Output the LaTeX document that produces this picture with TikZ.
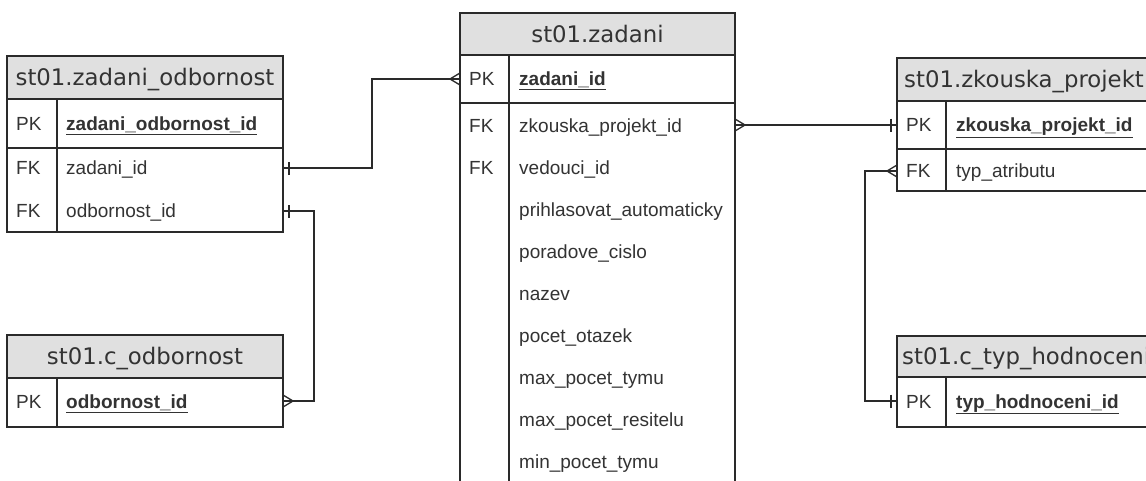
\documentclass[tikz,border=0pt]{standalone}
\usepackage{fontspec}
\setmainfont{Liberation Sans}
\newfontfamily\hdrfont{DejaVu Sans}
\definecolor{ln}{HTML}{2A2A2A}
\definecolor{hd}{HTML}{E0E0E0}
\definecolor{tx}{HTML}{333333}
\begin{document}
\begin{tikzpicture}[x=1pt,y=-1pt,
  box/.style={draw=ln, line width=1.3pt},
  hdrbox/.style={draw=ln, fill=hd, line width=1.3pt},
  htext/.style={font=\hdrfont\fontsize{22.8}{26}\selectfont, text=tx, inner sep=0pt, anchor=base},
  hltext/.style={htext, anchor=base west},
  ktext/.style={font=\fontsize{19}{23}\selectfont, text=tx, inner sep=0pt, anchor=base west},
  pktext/.style={ktext, font=\fontsize{19}{23}\selectfont\bfseries},
  conn/.style={draw=ln, line width=1.3pt},
  crow/.pic={\draw[conn] (-10,0) -- (0,-6) (-10,0) -- (0,6);},
  onebar/.pic={\draw[conn] (-6,-6.5) -- (-6,6.5);}
]
\useasboundingbox (0,0) rectangle (1146,480);
\fill[white] (0,0) rectangle (1146,480);
\clip (0,0) rectangle (1146,480);

% ---------- st01.zadani_odbornost ----------
\draw[hdrbox] (7,56) rectangle (283,99);
\draw[box] (7,99) rectangle (283,232);
\draw[box] (7,148) -- (283,148);
\draw[box] (57,99) -- (57,232);
\node[htext] (zoh) at (145,85.5) {st01.zadani\_odbornost};
\node[ktext] (zok1) at (16,130) {PK};
\node[pktext] (zon1) at (66,130) {\underline{zadani\_odbornost\_id}};
\node[ktext] (zok2) at (16,174.5) {FK};
\node[ktext] (zon2) at (66,174.5) {zadani\_id};
\node[ktext] (zok3) at (16,217.5) {FK};
\node[ktext] (zon3) at (66,217.5) {odbornost\_id};
\coordinate (zo_zid) at (283,168);
\coordinate (zo_oid) at (283,211);

% ---------- st01.c_odbornost ----------
\draw[hdrbox] (7,335) rectangle (283,378);
\draw[box] (7,378) rectangle (283,427);
\draw[box] (57,378) -- (57,427);
\node[htext] (coh) at (145,364.5) {st01.c\_odbornost};
\node[ktext] (cok1) at (16,408) {PK};
\node[pktext] (con1) at (66,408) {\underline{odbornost\_id}};
\coordinate (co_pk) at (283,401);

% ---------- st01.zadani ----------
\draw[hdrbox] (460,13) rectangle (735,55);
\draw[box] (460,55) rectangle (735,495);
\draw[box] (460,103) -- (735,103);
\draw[box] (509,55) -- (509,495);
\node[htext] (zh) at (597.5,42) {st01.zadani};
\node[ktext] (zk1) at (469,85.5) {PK};
\node[pktext] (zn1) at (519,85.5) {\underline{zadani\_id}};
\node[ktext] (zk2) at (469,132) {FK};
\node[ktext] (zn2) at (519,132) {zkouska\_projekt\_id};
\node[ktext] (zk3) at (469,174) {FK};
\node[ktext] (zn3) at (519,174) {vedouci\_id};
\node[ktext] (zn4) at (519,216) {prihlasovat\_automaticky};
\node[ktext] (zn5) at (519,258) {poradove\_cislo};
\node[ktext] (zn6) at (519,300) {nazev};
\node[ktext] (zn7) at (519,342) {pocet\_otazek};
\node[ktext] (zn8) at (519,384) {max\_pocet\_tymu};
\node[ktext] (zn9) at (519,426) {max\_pocet\_resitelu};
\node[ktext] (zn10) at (519,468) {min\_pocet\_tymu};
\coordinate (z_pk) at (460,79);
\coordinate (z_zpid) at (735,125);

% ---------- st01.zkouska_projekt ----------
\draw[hdrbox] (897,58) rectangle (1175,101);
\draw[box] (897,101) rectangle (1175,191);
\draw[box] (897,149) -- (1175,149);
\draw[box] (946,101) -- (946,191);
\node[hltext] (zph) at (904,87.5) {st01.zkouska\_projekt};
\node[ktext] (zpk1) at (906,131.5) {PK};
\node[pktext] (zpn1) at (956,131.5) {\underline{zkouska\_projekt\_id}};
\node[ktext] (zpk2) at (906,177.5) {FK};
\node[ktext] (zpn2) at (956,177.5) {typ\_atributu};
\coordinate (zp_pk) at (897,125);
\coordinate (zp_typ) at (897,171);

% ---------- st01.c_typ_hodnoceni ----------
\draw[hdrbox] (897,336) rectangle (1175,377);
\draw[box] (897,377) rectangle (1175,427);
\draw[box] (946,377) -- (946,427);
\node[hltext] (cth) at (902,364) {st01.c\_typ\_hodnoceni};
\node[ktext] (ctk1) at (906,408) {PK};
\node[pktext] (ctn1) at (956,408) {\underline{typ\_hodnoceni\_id}};
\coordinate (ct_pk) at (897,401);

% ---------- connectors ----------
\draw[conn] (zo_zid) -- ++(89,0) |- (z_pk);
\pic[rotate=180] at (zo_zid) {onebar};
\pic at (z_pk) {crow};

\draw[conn] (zo_oid) -- ++(31,0) |- (co_pk);
\pic[rotate=180] at (zo_oid) {onebar};
\pic[rotate=180] at (co_pk) {crow};

\draw[conn] (z_zpid) -- (zp_pk);
\pic[rotate=180] at (z_zpid) {crow};
\pic at (zp_pk) {onebar};

\draw[conn] (zp_typ) -- ++(-32,0) |- (ct_pk);
\pic at (zp_typ) {crow};
\pic at (ct_pk) {onebar};
\end{tikzpicture}
\end{document}
